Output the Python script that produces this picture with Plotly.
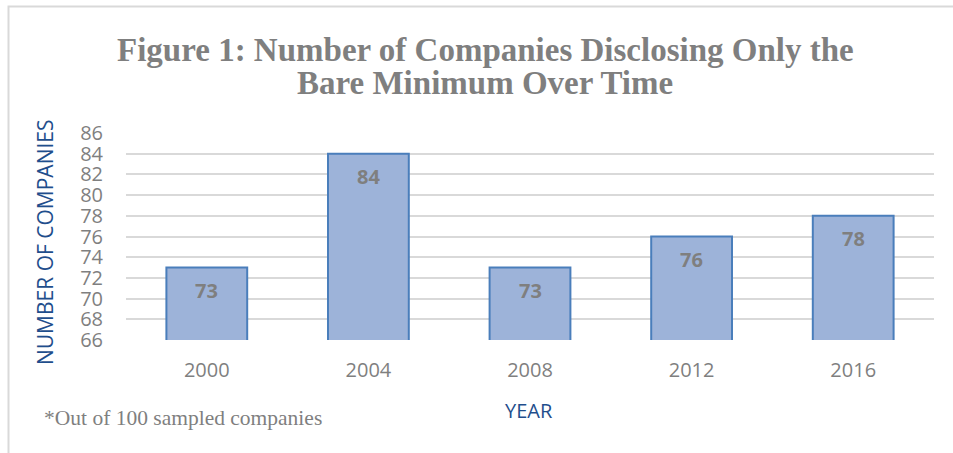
import plotly.graph_objects as go

years = ["2000", "2004", "2008", "2012", "2016"]
companies = [73, 84, 73, 76, 78]
y_ticks = [66, 68, 70, 72, 74, 76, 78, 80, 82, 84, 86]

W, H = 953, 453
ML, MR, MT, MB = 126, 19, 133, 113
PW, PH = W - ML - MR, H - MT - MB

def px_x(px):
    return (px - ML) / PW

def px_y(py):
    return (H - MB - py) / PH

sans = "Open Sans, Lato, sans-serif"
serif = "Liberation Serif, Times New Roman, serif"
gray = "#7f7f7f"
navy = "#1f4e8c"

fig = go.Figure()
fig.add_trace(go.Bar(
    x=years, y=companies, width=0.5,
    marker=dict(color="#9db3d9", line=dict(color="#4a7ebb", width=2)),
    hoverinfo="skip",
))

for i, v in enumerate(companies):
    fig.add_annotation(x=i, y=v, text=f"<b>{v}</b>", showarrow=False,
                       yshift=-23, font=dict(family=sans, size=20, color=gray))

fig.update_layout(
    width=W, height=H,
    margin=dict(l=ML, r=MR, t=MT, b=MB, autoexpand=False),
    paper_bgcolor="white", plot_bgcolor="white",
    showlegend=False,
)
fig.update_yaxes(
    range=[66, 86], tickvals=y_ticks, showgrid=True, gridcolor="#d9d9d9", gridwidth=1.5,
    zeroline=False, showline=False, ticks="", ticklabelstandoff=22,
    tickfont=dict(family=sans, size=20, color=gray),
)
fig.update_xaxes(
    type="category", range=[-0.5, len(years) - 0.5],
    showgrid=False, showline=False, ticks="", ticklabelstandoff=16,
    tickfont=dict(family=sans, size=20, color=gray),
)

# Title (two lines)
title_lines = ["Figure 1: Number of Companies Disclosing Only the", "Bare Minimum Over Time"]
for line, cy in zip(title_lines, [50, 83]):
    fig.add_annotation(xref="paper", yref="paper", x=px_x(485), y=px_y(cy),
                       text=f"<b>{line}</b>", showarrow=False,
                       xanchor="center", yanchor="middle",
                       font=dict(family=serif, size=33, color=gray))
# Axis titles
fig.add_annotation(xref="paper", yref="paper", x=px_x(45), y=px_y(242),
                   text="NUMBER OF COMPANIES", textangle=-90, showarrow=False,
                   xanchor="center", yanchor="middle",
                   font=dict(family=sans, size=21, color=navy))
fig.add_annotation(xref="paper", yref="paper", x=px_x(529), y=px_y(410),
                   text="YEAR", showarrow=False, xanchor="center", yanchor="middle",
                   font=dict(family=sans, size=20, color=navy))
# Footnote
fig.add_annotation(xref="paper", yref="paper", x=px_x(42), y=px_y(418),
                   text="*Out of 100 sampled companies", showarrow=False,
                   xanchor="left", yanchor="middle",
                   font=dict(family=serif, size=21.5, color=gray))

# Frame border (top and left)
fig.add_shape(type="path", xref="paper", yref="paper",
              path=f"M {px_x(8.5)} {px_y(470)} L {px_x(8.5)} {px_y(6.5)} L {px_x(970)} {px_y(6.5)}",
              line=dict(color="#d9d9d9", width=2))

fig.write_html("out.html")
